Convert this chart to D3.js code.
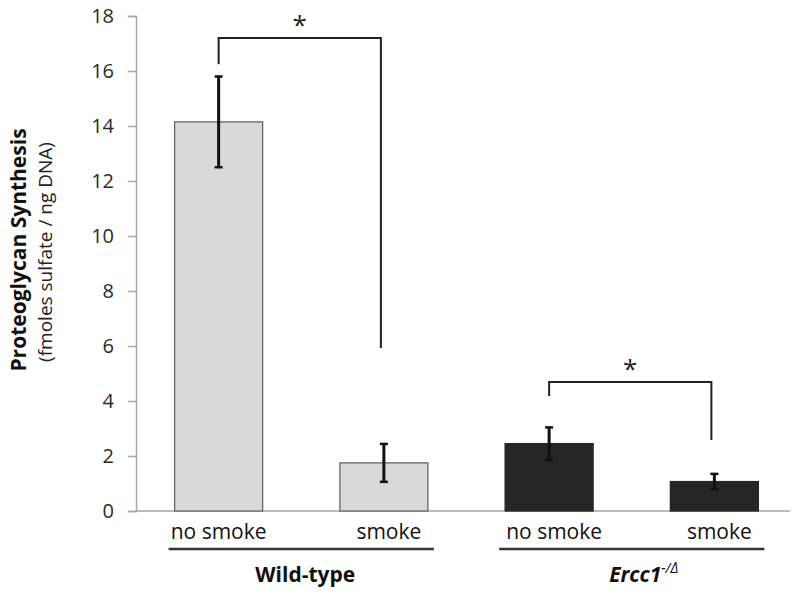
<!DOCTYPE html>
<html>
<head>
<meta charset="utf-8">
<script src="https://cdn.jsdelivr.net/npm/d3@7"></script>
<style>
  body { margin: 0; background: #fff; }
  text { font-family: "Open Sans", "Noto Sans", sans-serif; }
</style>
</head>
<body>
<div id="chart"></div>
<script>
// data
var conditions = ["no smoke", "smoke", "no smoke", "smoke"];
var groups = ["Wild-type", "Ercc1"];
var groupOf = [0, 0, 1, 1];
var means = [14.15, 1.75, 2.45, 1.07];
var errors = [1.65, 0.69, 0.59, 0.28];
var yTicks = [0, 2, 4, 6, 8, 10, 12, 14, 16, 18];
// significance brackets: bar index pair, left end, right end, top (axis units)
var brackets = [
  { a: 0, b: 1, left: 16.25, right: 5.93, top: 17.2 },
  { a: 2, b: 3, left: 4.18, right: 2.58, top: 4.69 }
];

var width = 800, height = 594;
var axisX = 136, baseY = 511;

var svg = d3.select("#chart").append("svg")
  .attr("width", width).attr("height", height);

var y = d3.scaleLinear().domain([0, 18]).range([baseY, 16]);
var x = d3.scalePoint().domain(d3.range(conditions.length)).range([axisX, 797]).padding(0.5);
var barW = 88;

// y axis
var yAxis = svg.append("g")
  .attr("transform", "translate(" + axisX + ",0)")
  .call(d3.axisLeft(y).tickValues(yTicks).tickSize(8).tickPadding(14).tickFormat(d3.format("d")));
yAxis.select(".domain").attr("stroke", "#a6a6a6").attr("stroke-width", 1.5);
yAxis.selectAll(".tick line").attr("stroke", "#a6a6a6").attr("stroke-width", 1.5);
yAxis.selectAll(".tick text").attr("fill", "#2a2a2a").style("font-size", "20px")
  .style("font-family", "'Open Sans', sans-serif");

// baseline
svg.append("line")
  .attr("x1", axisX).attr("x2", 790)
  .attr("y1", y(0)).attr("y2", y(0))
  .attr("stroke", "#a6a6a6").attr("stroke-width", 1.5);

// bars
svg.selectAll(".bar")
  .data(means)
  .enter().append("rect")
  .attr("class", "bar")
  .attr("x", (d, i) => x(i) - barW / 2)
  .attr("y", d => y(d))
  .attr("width", barW)
  .attr("height", d => y(0) - y(d))
  .attr("fill", (d, i) => groupOf[i] === 0 ? "#d9d9d9" : "#262626")
  .attr("stroke", (d, i) => groupOf[i] === 0 ? "#666" : "#262626")
  .attr("stroke-width", 1.3);

// error bars
var eb = svg.selectAll(".err")
  .data(means)
  .enter().append("g").attr("class", "err");
eb.append("line")
  .attr("x1", (d, i) => x(i)).attr("x2", (d, i) => x(i))
  .attr("y1", (d, i) => y(d + errors[i])).attr("y2", (d, i) => y(d - errors[i]))
  .attr("stroke", "#111").attr("stroke-width", 3);
[1, -1].forEach(function(s) {
  eb.append("line")
    .attr("x1", (d, i) => x(i) - 4).attr("x2", (d, i) => x(i) + 4)
    .attr("y1", (d, i) => y(d + s * errors[i])).attr("y2", (d, i) => y(d + s * errors[i]))
    .attr("stroke", "#111").attr("stroke-width", 2.5);
});

// significance brackets
brackets.forEach(function(b) {
  var xa = x(b.a), xb = x(b.b) - 3;
  svg.append("path")
    .attr("d", "M" + xa + "," + y(b.left) + "V" + y(b.top) + "H" + xb + "V" + y(b.right))
    .attr("fill", "none").attr("stroke", "#222").attr("stroke-width", 2);
  svg.append("text")
    .attr("x", (xa + xb) / 2).attr("y", y(b.top) - 4)
    .attr("text-anchor", "middle")
    .style("font-size", "26px").attr("fill", "#222")
    .text("*");
});

// category labels
svg.selectAll(".cat")
  .data(conditions)
  .enter().append("text")
  .attr("class", "cat")
  .attr("x", (d, i) => x(i) + (i === 0 ? 0 : 5))
  .attr("y", 539)
  .attr("text-anchor", "middle")
  .style("font-size", "21px").attr("fill", "#111")
  .text(d => d);

// group underline + labels
groups.forEach(function(g, gi) {
  var idx = d3.range(conditions.length).filter(i => groupOf[i] === gi);
  var x0 = x(idx[0]) - 50, x1 = x(idx[idx.length - 1]) + 50;
  svg.append("line")
    .attr("x1", x0).attr("x2", x1).attr("y1", 549).attr("y2", 549)
    .attr("stroke", "#333").attr("stroke-width", 2.5);
  var t = svg.append("text")
    .attr("x", (x0 + x1) / 2 + (gi === 0 ? 4 : 12)).attr("y", 582)
    .attr("text-anchor", "middle")
    .style("font-size", "21px").style("font-weight", "bold").attr("fill", "#111");
  if (gi === 0) {
    t.text(g);
  } else {
    t.append("tspan").style("font-style", "italic").text(g);
    t.append("tspan").style("font-style", "italic").style("font-weight", "normal")
      .style("font-size", "14px").attr("dy", -9).text("-/\u0394");
  }
});

// y axis title
var yt = svg.append("g").attr("transform", "translate(26,250) rotate(-90)");
yt.append("text")
  .attr("text-anchor", "middle")
  .style("font-size", "21px").style("font-weight", "bold").attr("fill", "#111")
  .text("Proteoglycan Synthesis");
yt.append("text")
  .attr("x", -2).attr("y", 26)
  .attr("text-anchor", "middle")
  .style("font-size", "19px").attr("fill", "#222")
  .text("(fmoles sulfate / ng DNA)");
</script>
</body>
</html>
